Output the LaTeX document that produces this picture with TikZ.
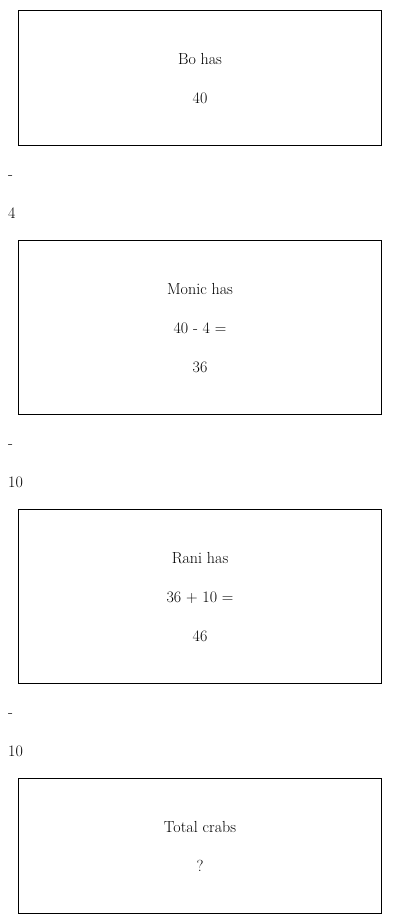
\documentclass[tikz,border=0pt]{standalone}
\begin{document}
\begin{tikzpicture}[x=1pt,y=-1pt,
  box/.style={draw=black,line width=0.8pt,inner sep=0pt,minimum width=363pt},
  txt/.style={font=\fontsize{16}{18}\selectfont,inner sep=0pt,anchor=base},
  lbl/.style={font=\fontsize{16}{18}\selectfont,inner sep=0pt,anchor=base west}]
\useasboundingbox (0,0) rectangle (400,924);
\node[box,minimum height=135pt] (b1) at (199.5,77.5) {};
\node[box,minimum height=174pt] (b2) at (199.5,327) {};
\node[box,minimum height=174pt] (b3) at (199.5,596) {};
\node[box,minimum height=135pt] (b4) at (199.5,845.5) {};
\node[txt] (t11) at (200,64) {Bo has};
\node[txt] (t12) at (200,103) {40};
\node[txt] (t21) at (200,294) {Monic has};
\node[txt] (t22) at (200,333) {40 - 4 =};
\node[txt] (t23) at (200,372) {36};
\node[txt] (t31) at (200,563) {Rani has};
\node[txt] (t32) at (200,602) {36 + 10 =};
\node[txt] (t33) at (200,641) {46};
\node[txt] (t41) at (200,832) {Total crabs};
\node[txt] (t42) at (200,871) {?};
\node[lbl] (l1) at (8,179) {-};
\node[lbl] (l2) at (8,218) {4};
\node[lbl] (l3) at (8,448) {-};
\node[lbl] (l4) at (8,487) {10};
\node[lbl] (l5) at (8,717) {-};
\node[lbl] (l6) at (8,756) {10};
\end{tikzpicture}
\end{document}
